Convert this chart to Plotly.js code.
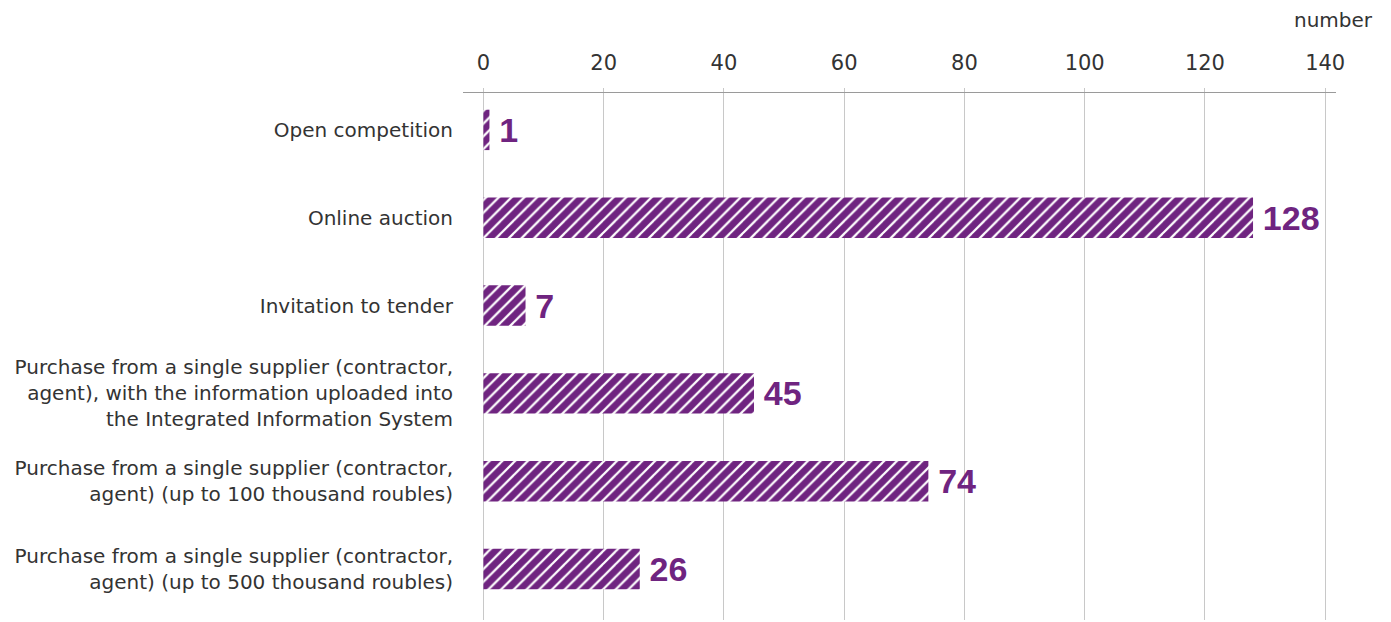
<!DOCTYPE html>
<html>
<head>
<meta charset="utf-8">
<script src="https://cdn.plot.ly/plotly-3.0.1.min.js"></script>
<style>html,body{margin:0;padding:0;background:#fff;}#chart{width:1391px;height:622px;}</style>
</head>
<body>
<div id="chart"></div>
<script>
const categories = [
  "Open competition",
  "Online auction",
  "Invitation to tender",
  "Purchase from a single supplier (contractor,<br>agent), with the information uploaded into<br>the Integrated Information System",
  "Purchase from a single supplier (contractor,<br>agent) (up to 100 thousand roubles)",
  "Purchase from a single supplier (contractor,<br>agent) (up to 500 thousand roubles)"
];
const values = [1, 128, 7, 45, 74, 26];
const tickValues = [0, 20, 40, 60, 80, 100, 120, 140];
const unitLabel = "number";

const purple = "#6f2480";
const textFont = "DejaVu Sans, sans-serif";
const valueFont = "Liberation Sans, Arial, sans-serif";

const trace = {
  type: "bar",
  orientation: "h",
  x: values,
  y: categories,
  text: values.map(v => "\u2009" + v),
  textposition: "outside",
  cliponaxis: false,
  textfont: {family: valueFont, size: 34, color: purple, weight: "bold"},
  marker: {
    color: purple,
    line: {width: 0},
    pattern: {shape: "/", bgcolor: purple, fgcolor: "#ffffff", fillmode: "replace", size: 9, solidity: 0.25}
  },
  hoverinfo: "none"
};

const layout = {
  width: 1391,
  height: 622,
  margin: {l: 463, r: 55, t: 93, b: 2, pad: 0},
  paper_bgcolor: "#ffffff",
  plot_bgcolor: "#ffffff",
  showlegend: false,
  bargap: 0.54,
  font: {family: textFont, color: "#333333", size: 20},
  xaxis: {
    side: "top",
    range: [-3.4, 141.8],
    tickvals: tickValues,
    ticktext: tickValues.map(String),
    showgrid: true,
    gridcolor: "#c8c8c8",
    gridwidth: 1,
    zeroline: false,
    showline: true,
    linecolor: "#9a9a9a",
    linewidth: 1,
    ticks: "outside",
    ticklen: 4,
    tickcolor: "#c8c8c8",
    ticklabelstandoff: 10,
    tickfont: {family: textFont, size: 21, color: "#333333"},
    fixedrange: true
  },
  yaxis: {
    type: "category",
    range: [5.58, -0.42],
    autorange: false,
    showgrid: false,
    zeroline: false,
    showline: false,
    ticks: "",
    ticklabelstandoff: 9,
    tickfont: {family: textFont, size: 20, color: "#333333"},
    fixedrange: true
  },
  annotations: [{
    text: unitLabel,
    xref: "paper", yref: "paper",
    x: 1.045, y: 1.0, yshift: 73,
    xanchor: "right", yanchor: "middle",
    showarrow: false,
    font: {family: textFont, size: 20, color: "#333333"}
  }]
};

Plotly.newPlot("chart", [trace], layout, {displayModeBar: false, staticPlot: true});
</script>
</body>
</html>
